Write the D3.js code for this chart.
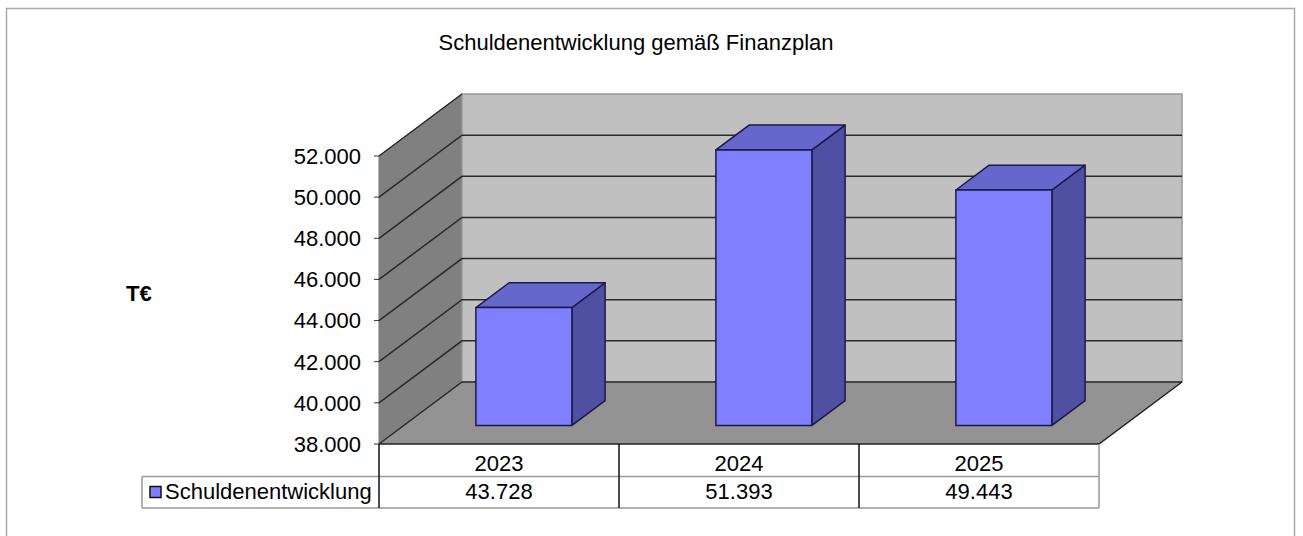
<!DOCTYPE html>
<html>
<head>
<meta charset="utf-8">
<script src="https://cdn.jsdelivr.net/npm/d3@7"></script>
<style>
  body { margin: 0; background: #fff; }
  svg text { font-family: "Liberation Sans", Arial, sans-serif; fill: #000; }
</style>
</head>
<body>
<div id="chart"></div>
<script>
const title = "Schuldenentwicklung gemäß Finanzplan";
const unitLabel = "T€";
const seriesName = "Schuldenentwicklung";
const categories = ["2023", "2024", "2025"];
const values = [43728, 51393, 49443];
const yTicks = [38000, 40000, 42000, 44000, 46000, 48000, 50000, 52000];

const W = 1303, H = 536;
// depth offset of the 3d box (back plane relative to front plane)
const DX = 83, DY = 62;
const zFront = 0.3, zBack = 0.7;
const fontSize = "22px";

const de = d3.formatLocale({ decimal: ",", thousands: ".", grouping: [3], currency: ["", "€"] });
const fmt = de.format(",d");

const svg = d3.select("#chart").append("svg")
  .attr("width", W)
  .attr("height", H);

// outer frame
svg.append("rect")
  .attr("x", 6.5).attr("y", 8.5)
  .attr("width", 1288).attr("height", 560)
  .attr("fill", "none")
  .attr("stroke", "#aaaaaa")
  .attr("stroke-width", 1.5);

svg.append("text")
  .attr("x", 636).attr("y", 50)
  .attr("text-anchor", "middle")
  .style("font-size", fontSize)
  .text(title);

svg.append("text")
  .attr("x", 126).attr("y", 301)
  .style("font-size", "22px")
  .style("font-weight", "bold")
  .text(unitLabel);

const x = d3.scaleBand()
  .domain(categories)
  .range([379, 1099])
  .paddingInner(0.6)
  .paddingOuter(0.3);

const xCol = d3.scaleBand()
  .domain(categories)
  .range([379, 1099]);

const y = d3.scaleLinear()
  .domain([38000, 52000])
  .range([444, 156]);

const x0 = x.range()[0], x1 = x.range()[1];
const yMin = y(y.domain()[0]), yMax = y(y.domain()[1]);

const proj = (px, py, z) => [px + z * DX, py - z * DY];
const poly = pts => "M" + pts.map(p => p.join(",")).join("L") + "Z";

// walls
svg.append("path")
  .attr("d", poly([proj(x0, yMin, 0), proj(x0, yMax, 0), proj(x0, yMax, 1), proj(x0, yMin, 1)]))
  .attr("fill", "#808080")
  .attr("stroke", "#777")
  .attr("stroke-width", 1);

svg.append("path")
  .attr("d", poly([proj(x0, yMax, 1), proj(x1, yMax, 1), proj(x1, yMin, 1), proj(x0, yMin, 1)]))
  .attr("fill", "#c0c0c0")
  .attr("stroke", "#999")
  .attr("stroke-width", 1.5);

svg.append("path")
  .attr("d", poly([proj(x0, yMin, 0), proj(x1, yMin, 0), proj(x1, yMin, 1), proj(x0, yMin, 1)]))
  .attr("fill", "#939393")
  .attr("stroke", "none");

// gridlines on side and back wall
svg.selectAll(".grid")
  .data(yTicks)
  .join("path")
  .attr("class", "grid")
  .attr("d", d => {
    const a = proj(x0, y(d), 0), b = proj(x0, y(d), 1), c = proj(x1, y(d), 1);
    return d === y.domain()[1]
      ? `M${a}L${b}`
      : `M${a}L${b}L${c}`;
  })
  .attr("fill", "none")
  .attr("stroke", "#2a2a2a")
  .attr("stroke-width", 1.5);

// floor front and right edges
svg.append("path")
  .attr("d", `M${proj(x0, yMin, 0)}L${proj(x1, yMin, 0)}L${proj(x1, yMin, 1)}`)
  .attr("fill", "none")
  .attr("stroke", "#222")
  .attr("stroke-width", 1.5);

// y axis ticks and labels
const yAxis = svg.append("g");
yAxis.selectAll("line")
  .data(yTicks)
  .join("line")
  .attr("x1", x0 - 5).attr("x2", x0)
  .attr("y1", d => y(d)).attr("y2", d => y(d))
  .attr("stroke", "#333")
  .attr("stroke-width", 1);
yAxis.selectAll("text")
  .data(yTicks)
  .join("text")
  .attr("x", x0 - 18)
  .attr("y", d => y(d))
  .attr("dy", "0.36em")
  .attr("text-anchor", "end")
  .style("font-size", fontSize)
  .text(d => fmt(d));

// bars
const bars = svg.selectAll(".bar")
  .data(categories.map((c, i) => ({ cat: c, value: values[i] })))
  .join("g")
  .attr("class", "bar");

bars.each(function(d) {
  const g = d3.select(this);
  const bx0 = x(d.cat), bx1 = x(d.cat) + x.bandwidth();
  const top = y(d.value);
  const fl = proj(bx0, yMin, zFront), fr = proj(bx1, yMin, zFront);
  const tl = proj(bx0, top, zFront), tr = proj(bx1, top, zFront);
  const btl = proj(bx0, top, zBack), btr = proj(bx1, top, zBack);
  const bbr = proj(bx1, yMin, zBack);
  const stroke = { color: "#1a1a4a", width: 1.5 };
  g.append("path")
    .attr("d", poly([fr, tr, btr, bbr]))
    .attr("fill", "#5050a2")
    .attr("stroke", stroke.color).attr("stroke-width", stroke.width)
    .attr("stroke-linejoin", "round");
  g.append("path")
    .attr("d", poly([tl, tr, btr, btl]))
    .attr("fill", "#6666cc")
    .attr("stroke", stroke.color).attr("stroke-width", stroke.width)
    .attr("stroke-linejoin", "round");
  g.append("path")
    .attr("d", poly([fl, tl, tr, fr]))
    .attr("fill", "#8080ff")
    .attr("stroke", stroke.color).attr("stroke-width", stroke.width)
    .attr("stroke-linejoin", "round");
});

// data table
const tTop = yMin, tMid = 476.5, tBot = 508;
const table = svg.append("g");
table.append("line")
  .attr("x1", x0).attr("x2", x1).attr("y1", tMid).attr("y2", tMid)
  .attr("stroke", "#999").attr("stroke-width", 1.5);
table.append("line")
  .attr("x1", 142).attr("x2", x1).attr("y1", tBot).attr("y2", tBot)
  .attr("stroke", "#999").attr("stroke-width", 1.5);
table.append("line")
  .attr("x1", 142).attr("x2", x0).attr("y1", tMid).attr("y2", tMid)
  .attr("stroke", "#999").attr("stroke-width", 1.5);
table.append("line")
  .attr("x1", 142).attr("x2", 142).attr("y1", tMid).attr("y2", tBot)
  .attr("stroke", "#999").attr("stroke-width", 1.5);
table.append("line")
  .attr("x1", x1).attr("x2", x1).attr("y1", tTop).attr("y2", tBot)
  .attr("stroke", "#999").attr("stroke-width", 1.5);
table.selectAll(".vline")
  .data(categories)
  .join("line")
  .attr("class", "vline")
  .attr("x1", d => xCol(d)).attr("x2", d => xCol(d))
  .attr("y1", tTop).attr("y2", tBot)
  .attr("stroke", "#111").attr("stroke-width", 1.5);

table.selectAll(".cat")
  .data(categories)
  .join("text")
  .attr("class", "cat")
  .attr("x", d => xCol(d) + xCol.bandwidth() / 2)
  .attr("y", 471)
  .attr("text-anchor", "middle")
  .style("font-size", fontSize)
  .text(d => d);

table.selectAll(".val")
  .data(values)
  .join("text")
  .attr("class", "val")
  .attr("x", (d, i) => xCol(categories[i]) + xCol.bandwidth() / 2)
  .attr("y", 499)
  .attr("text-anchor", "middle")
  .style("font-size", fontSize)
  .text(d => fmt(d));

// legend key in the table
table.append("rect")
  .attr("x", 150).attr("y", 486.5)
  .attr("width", 11).attr("height", 11)
  .attr("fill", "#8080ff")
  .attr("stroke", "#111").attr("stroke-width", 1.5);
table.append("text")
  .attr("x", 165).attr("y", 499)
  .style("font-size", fontSize)
  .text(seriesName);
</script>
</body>
</html>
